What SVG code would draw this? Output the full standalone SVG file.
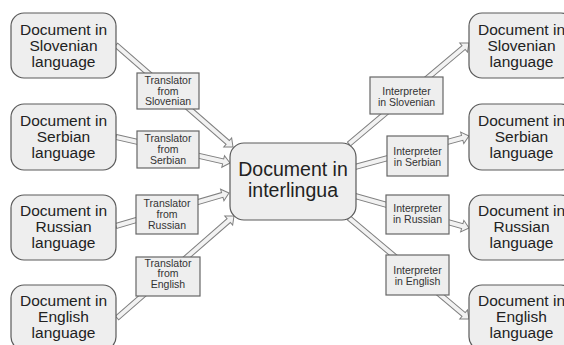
<svg xmlns="http://www.w3.org/2000/svg" width="564" height="345" viewBox="0 0 564 345">
<style>
.doc{fill:#eeeeee;stroke:#5a5a5a;stroke-width:1.2}
.box{fill:#eeeeee;stroke:#666666;stroke-width:1.2}
.arr{fill:#f2f2f2;stroke:#808080;stroke-width:1;stroke-linejoin:miter}
.t1{font-family:"Liberation Sans",Arial,sans-serif;font-size:15.5px;fill:#222;text-anchor:middle}
.t2{font-family:"Liberation Sans",Arial,sans-serif;font-size:10.5px;fill:#333;text-anchor:middle}
.t3{font-family:"Liberation Sans",Arial,sans-serif;font-size:19.5px;fill:#222;text-anchor:middle}
</style>
<rect width="564" height="345" fill="#ffffff"/>
<g id="connectors">
<polygon class="arr" transform="translate(116,45) rotate(41.08)" points="0,-2.5 148.2,-2.5 148.2,-6 155.2,0 148.2,6 148.2,2.5 0,2.5"/>
<polygon class="arr" transform="translate(116,137) rotate(12.85)" points="0,-2.5 109.9,-2.5 109.9,-6 116.9,0 109.9,6 109.9,2.5 0,2.5"/>
<polygon class="arr" transform="translate(116,226) rotate(-16.28)" points="0,-2.5 110.7,-2.5 110.7,-6 117.7,0 110.7,6 110.7,2.5 0,2.5"/>
<polygon class="arr" transform="translate(117,318) rotate(-41.08)" points="0,-2.5 148.2,-2.5 148.2,-6 155.2,0 148.2,6 148.2,2.5 0,2.5"/>
<polygon class="arr" transform="translate(349,144) rotate(-40.08)" points="0,-2.5 149.8,-2.5 149.8,-6 156.8,0 149.8,6 149.8,2.5 0,2.5"/>
<polygon class="arr" transform="translate(355,167) rotate(-15.21)" points="0,-2.5 111.1,-2.5 111.1,-6 118.1,0 111.1,6 111.1,2.5 0,2.5"/>
<polygon class="arr" transform="translate(355,196) rotate(15.68)" points="0,-2.5 111.4,-2.5 111.4,-6 118.4,0 111.4,6 111.4,2.5 0,2.5"/>
<polygon class="arr" transform="translate(349,218) rotate(40.08)" points="0,-2.5 149.8,-2.5 149.8,-6 156.8,0 149.8,6 149.8,2.5 0,2.5"/>
</g>
<g id="doc-sl-in"><rect class="doc" x="11" y="13" width="105" height="65" rx="13"/><text class="t1" x="63.5" y="34.5">Document in</text><text class="t1" x="63.5" y="50.5">Slovenian</text><text class="t1" x="63.5" y="66.5">language</text></g>
<g id="doc-sr-in"><rect class="doc" x="11" y="104" width="105" height="66" rx="13"/><text class="t1" x="63.5" y="125.5">Document in</text><text class="t1" x="63.5" y="141.5">Serbian</text><text class="t1" x="63.5" y="157.5">language</text></g>
<g id="doc-ru-in"><rect class="doc" x="11" y="195" width="105" height="65" rx="13"/><text class="t1" x="63.5" y="216">Document in</text><text class="t1" x="63.5" y="232">Russian</text><text class="t1" x="63.5" y="248">language</text></g>
<g id="doc-en-in"><rect class="doc" x="11" y="285" width="105" height="65" rx="13"/><text class="t1" x="63.5" y="306">Document in</text><text class="t1" x="63.5" y="322">English</text><text class="t1" x="63.5" y="338">language</text></g>
<g id="tr-sl"><rect class="box" x="137" y="73" width="62" height="36"/><text class="t2" x="168" y="84">Translator</text><text class="t2" x="168" y="94.5">from</text><text class="t2" x="168" y="105">Slovenian</text></g>
<g id="tr-sr"><rect class="box" x="137" y="131" width="62" height="37"/><text class="t2" x="168" y="142">Translator</text><text class="t2" x="168" y="153">from</text><text class="t2" x="168" y="164">Serbian</text></g>
<g id="tr-ru"><rect class="box" x="136" y="195" width="62" height="39"/><text class="t2" x="167" y="207">Translator</text><text class="t2" x="167" y="218">from</text><text class="t2" x="167" y="228.5">Russian</text></g>
<g id="tr-en"><rect class="box" x="136" y="257" width="64" height="39"/><text class="t2" x="168" y="266.5">Translator</text><text class="t2" x="168" y="277">from</text><text class="t2" x="168" y="288">English</text></g>
<g id="interlingua"><rect class="doc" x="230" y="143" width="126" height="77" rx="14"/><text class="t3" x="293" y="176">Document in</text><text class="t3" x="293" y="197">interlingua</text></g>
<g id="in-sl"><rect class="box" x="370" y="77" width="73" height="37"/><text class="t2" x="406.5" y="94.5">Interpreter</text><text class="t2" x="406.5" y="105.5">in Slovenian</text></g>
<g id="in-sr"><rect class="box" x="387" y="136" width="61" height="40"/><text class="t2" x="417.5" y="155">Interpreter</text><text class="t2" x="417.5" y="165.5">in Serbian</text></g>
<g id="in-ru"><rect class="box" x="386" y="195" width="63" height="39"/><text class="t2" x="417.5" y="211.5">Interpreter</text><text class="t2" x="417.5" y="222.5">in Russian</text></g>
<g id="in-en"><rect class="box" x="386" y="255" width="63" height="40"/><text class="t2" x="417.5" y="274">Interpreter</text><text class="t2" x="417.5" y="285">in English</text></g>
<g id="doc-sl-out"><rect class="doc" x="469" y="13" width="105" height="65" rx="13"/><text class="t1" x="521.5" y="34.5">Document in</text><text class="t1" x="521.5" y="50.5">Slovenian</text><text class="t1" x="521.5" y="66.5">language</text></g>
<g id="doc-sr-out"><rect class="doc" x="469" y="104" width="105" height="66" rx="13"/><text class="t1" x="521.5" y="125.5">Document in</text><text class="t1" x="521.5" y="141.5">Serbian</text><text class="t1" x="521.5" y="157.5">language</text></g>
<g id="doc-ru-out"><rect class="doc" x="469" y="195" width="105" height="65" rx="13"/><text class="t1" x="521.5" y="216">Document in</text><text class="t1" x="521.5" y="232">Russian</text><text class="t1" x="521.5" y="248">language</text></g>
<g id="doc-en-out"><rect class="doc" x="469" y="285" width="105" height="65" rx="13"/><text class="t1" x="521.5" y="306">Document in</text><text class="t1" x="521.5" y="322">English</text><text class="t1" x="521.5" y="338">language</text></g>
</svg>
